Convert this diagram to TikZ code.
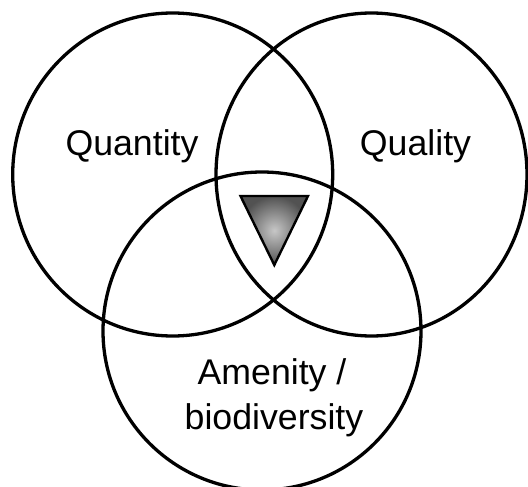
\documentclass[tikz,border=0pt]{standalone}
\usepackage{fontspec}
\setmainfont{Liberation Sans}
\begin{document}
\begin{tikzpicture}[x=1pt,y=-1pt,
  ring/.style={line width=3.3pt, draw=black},
  lbl/.style={font=\fontsize{35.7}{44.5}\selectfont, anchor=base, inner sep=0pt, text=black}]
\useasboundingbox (0,0) rectangle (528,487);
\fill[white] (0,0) rectangle (528,487);
\coordinate (cl) at (172.7,174.5);
\coordinate (cr) at (371.5,174.5);
\coordinate (cb) at (262,331);
\draw[ring] (cl) ellipse [x radius=160, y radius=161.5];
\draw[ring] (cr) ellipse [x radius=155.5, y radius=161.5];
\draw[ring] (cb) ellipse [x radius=159, y radius=159];
\coordinate (t1) at (240.5,196);
\coordinate (t2) at (308,196);
\coordinate (t3) at (274.3,265);
\shade[inner color=black!22, outer color=black!68] (t1) -- (t2) -- (t3) -- cycle;
\draw[line width=2.4pt, line join=miter] (t1) -- (t2) -- (t3) -- cycle;
\node[lbl] (qn) at (132,155.5) {Quantity};
\node[lbl] (ql) at (415.5,155.5) {Quality};
\node[lbl] (am) at (272,384.5) {Amenity /};
\node[lbl] (bd) at (274,429) {biodiversity};
\end{tikzpicture}
\end{document}
